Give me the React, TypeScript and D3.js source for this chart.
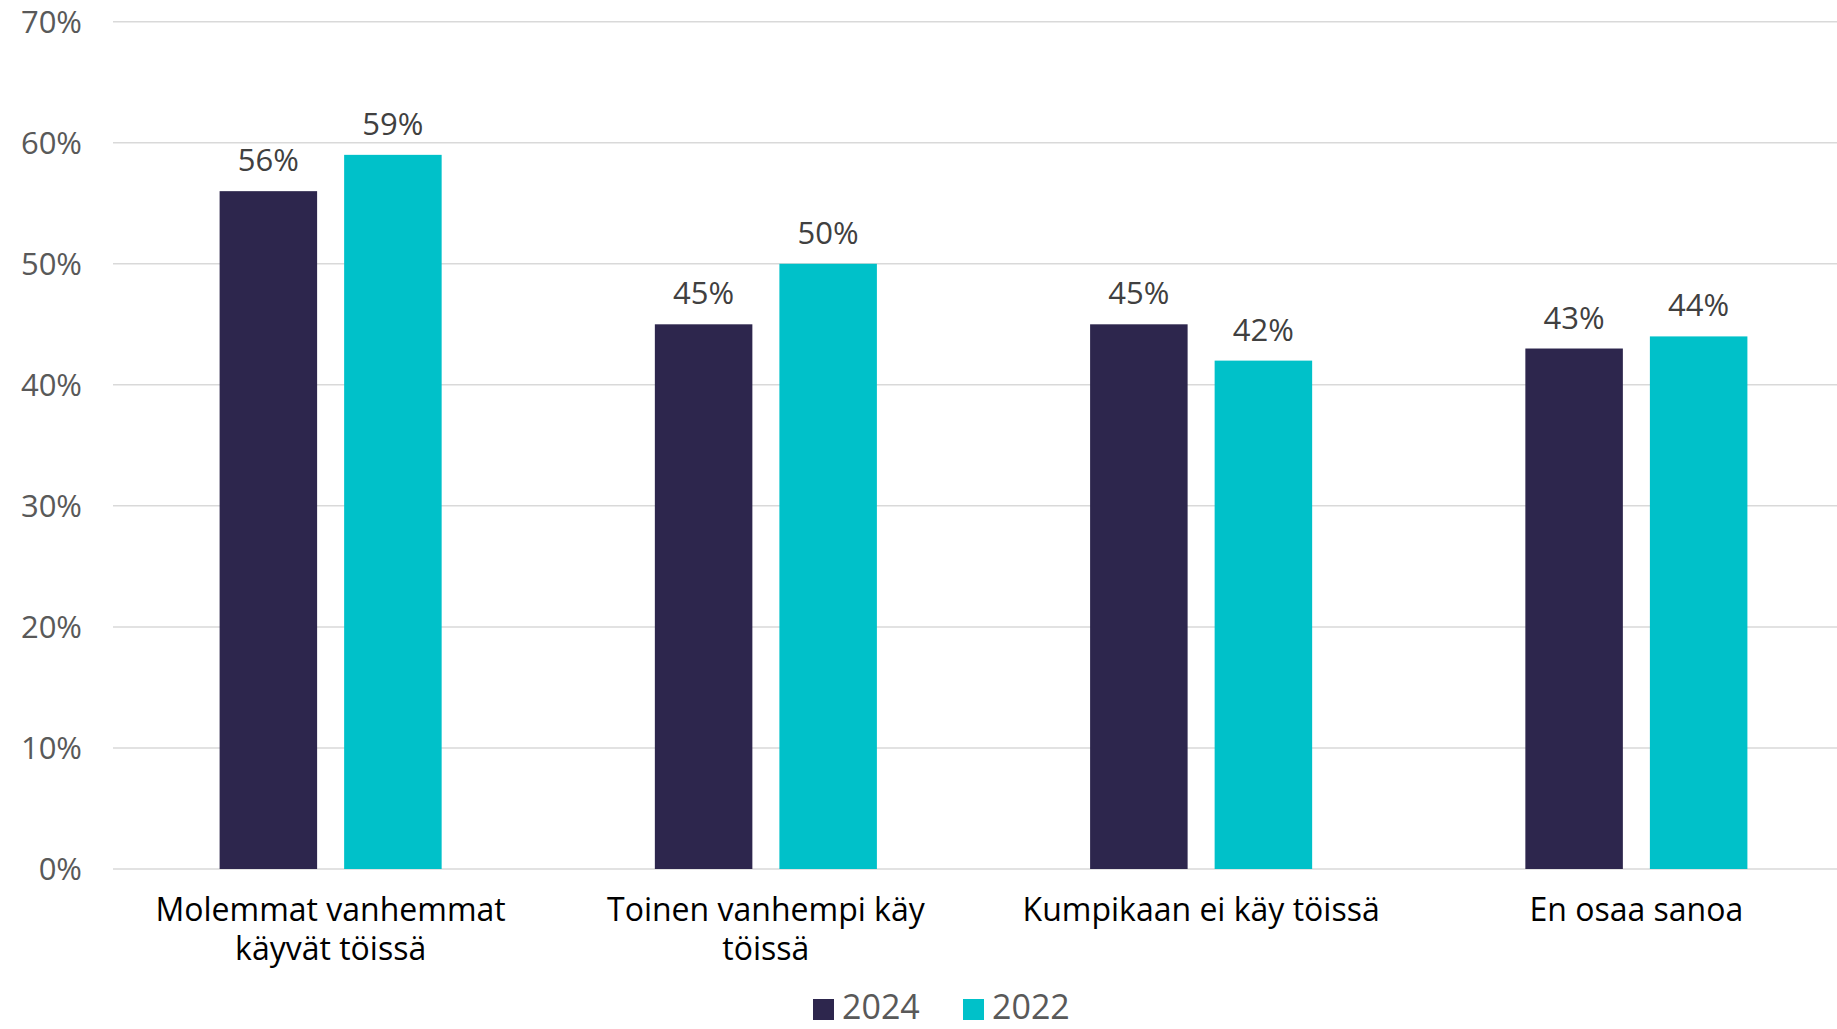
import React from "react";
import * as d3 from "d3";

const categories = [
  ["Molemmat vanhemmat", "käyvät töissä"],
  ["Toinen vanhempi käy", "töissä"],
  ["Kumpikaan ei käy töissä"],
  ["En osaa sanoa"],
];
const seriesNames = ["2024", "2022"];
const values2024 = [56, 45, 45, 43];
const values2022 = [59, 50, 42, 44];
const yTicks = [0, 10, 20, 30, 40, 50, 60, 70];

const colors = ["#2D264D", "#00C1C9"];

const width = 1837;
const height = 1029;
const font = "'Open Sans', sans-serif";

export default function App() {
  const plotLeft = 113;
  const plotRight = 1854;
  const y = d3.scaleLinear().domain([0, 70]).range([869, 21.7]);
  const x0 = d3
    .scaleBand<number>()
    .domain(categories.map((_, i) => i))
    .range([plotLeft, plotRight]);
  const x1 = d3
    .scaleBand<string>()
    .domain(seriesNames)
    .range([0, x0.bandwidth()])
    .paddingInner(0.217)
    .paddingOuter(0.856);
  const series = [values2024, values2022];

  return (
    <svg
      width={width}
      height={height}
      style={{ position: "absolute", left: 0, top: 0, background: "#fff" }}
    >
      {/* grid */}
      {yTicks.map((t) => (
        <g key={t}>
          <line
            x1={plotLeft}
            x2={width}
            y1={y(t)}
            y2={y(t)}
            stroke="#D9D9D9"
            strokeWidth={1.5}
          />
          <text
            x={82}
            y={y(t) + 11}
            textAnchor="end"
            fontFamily={font}
            fontSize={31}
            fill="#595959"
          >
            {t}%
          </text>
        </g>
      ))}

      {/* bars */}
      {categories.map((_, ci) =>
        seriesNames.map((s, si) => {
          const v = series[si][ci];
          const bx = x0(ci)! + x1(s)!;
          return (
            <g key={`${ci}-${s}`}>
              <rect
                x={bx}
                y={y(v)}
                width={x1.bandwidth()}
                height={y(0) - y(v)}
                fill={colors[si]}
              />
              <text
                x={bx + x1.bandwidth() / 2}
                y={y(v) - 20}
                textAnchor="middle"
                fontFamily={font}
                fontSize={31}
                fill="#404040"
              >
                {v}%
              </text>
            </g>
          );
        })
      )}

      {/* category labels, one text per line */}
      {categories.map((lines, ci) =>
        lines.map((l, li) => (
          <text
            key={`${ci}-${li}`}
            x={x0(ci)! + x0.bandwidth() / 2}
            y={921 + li * 39}
            textAnchor="middle"
            fontFamily={font}
            fontSize={32}
            fill="#000"
          >
            {l}
          </text>
        ))
      )}

      {/* legend */}
      {seriesNames.map((s, si) => {
        const lx = 813 + si * 150;
        return (
          <g key={s}>
            <rect x={lx} y={999} width={21} height={21} fill={colors[si]} />
            <text
              x={lx + 29}
              y={1019}
              fontFamily={font}
              fontSize={34}
              fill="#595959"
            >
              {s}
            </text>
          </g>
        );
      })}
    </svg>
  );
}
